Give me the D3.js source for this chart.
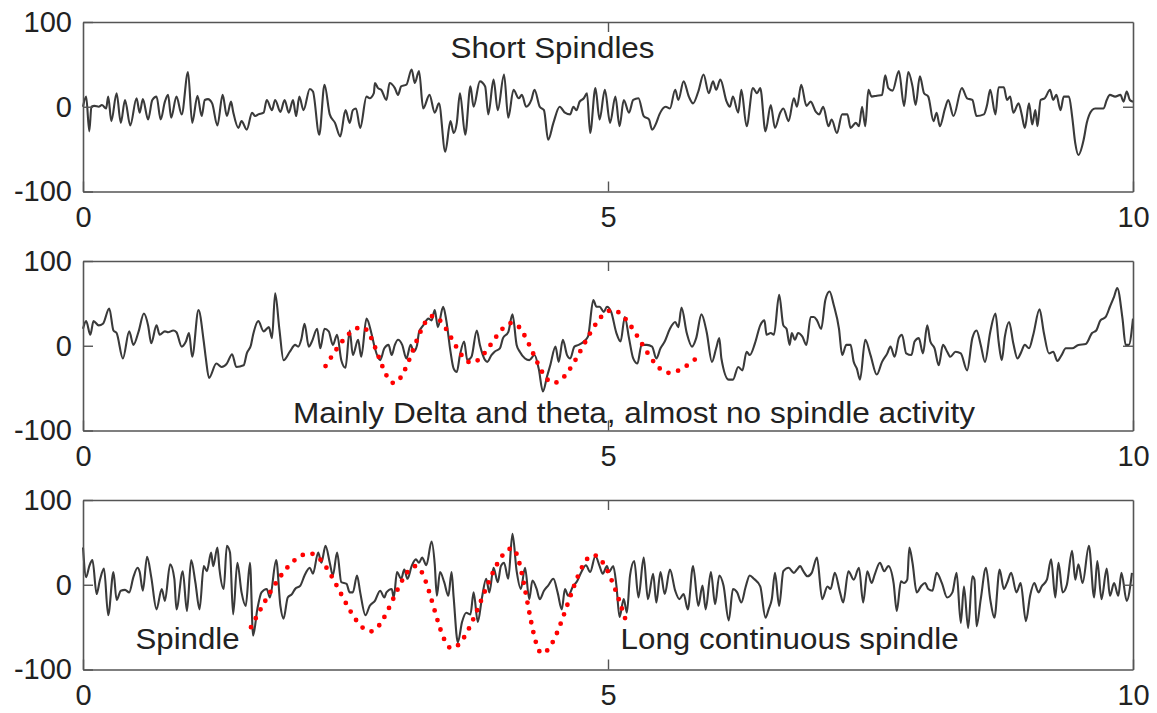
<!DOCTYPE html>
<html>
<head>
<meta charset="utf-8">
<script src="https://cdn.jsdelivr.net/npm/d3@7"></script>
<style>
  body { margin: 0; background: #fff; }
  svg { display: block; }
</style>
</head>
<body>
<div id="chart"></div>
<script>
// EEG traces, [time (s), amplitude (uV)]
const shortSpindles = [
  [0.00,0],[0.03,12],[0.06,-29],[0.08,0],[0.11,1],[0.15,0],[0.18,2],[0.22,-2],[0.24,12],[0.27,-17],[0.32,16],[0.36,-19],[0.40,8],[0.45,-22],[0.51,10],[0.54,-7],[0.57,9],[0.62,-15],[0.66,8],[0.70,12],[0.74,-15],[0.78,6],[0.81,14],[0.84,-13],[0.89,12],[0.94,-9],[1.00,41],[1.04,-19],[1.09,13],[1.13,-11],[1.16,8],[1.19,9],[1.23,4],[1.28,-22],[1.33,14],[1.37,-11],[1.41,6],[1.43,-6],[1.48,-25],[1.51,-17],[1.56,-27],[1.61,-7],[1.64,-11],[1.67,-9],[1.72,-7],[1.75,8],[1.80,-4],[1.83,8],[1.88,-6],[1.92,8],[1.96,-7],[2.00,8],[2.03,-11],[2.06,12],[2.10,-4],[2.16,21],[2.19,18],[2.25,-33],[2.30,26],[2.35,-9],[2.40,-19],[2.45,-35],[2.50,-4],[2.54,-19],[2.57,-4],[2.60,-2],[2.64,-25],[2.70,12],[2.73,10],[2.77,16],[2.78,28],[2.81,22],[2.84,20],[2.89,8],[2.92,28],[2.97,22],[3.00,14],
  [3.03,24],[3.08,26],[3.13,44],[3.16,28],[3.20,42],[3.24,-2],[3.30,14],[3.35,-7],[3.39,4],[3.45,-53],[3.50,-17],[3.53,-31],[3.56,-19],[3.59,16],[3.64,-33],[3.69,24],[3.72,0],[3.78,30],[3.83,24],[3.86,-9],[3.91,32],[3.95,-4],[4.01,38],[4.05,-13],[4.10,20],[4.15,10],[4.18,14],[4.22,0],[4.27,8],[4.30,20],[4.35,0],[4.39,-4],[4.43,-39],[4.48,-19],[4.54,0],[4.59,-7],[4.64,-9],[4.67,0],[4.70,-4],[4.73,6],[4.77,10],[4.80,16],[4.83,-31],[4.88,22],[4.92,-15],[4.97,20],[5.02,-19],[5.07,12],[5.11,-23],[5.15,8],[5.20,-7],[5.24,8],[5.29,10],[5.34,-11],[5.39,-15],[5.42,-27],[5.46,-19],[5.49,-9],[5.55,0],[5.59,-2],[5.64,20],[5.67,8],[5.72,30],[5.77,12],[5.81,4],[5.86,18],[5.91,38],[5.96,16],[6.00,30],[6.03,20],[6.07,32],[6.13,6],[6.16,0],[6.19,12],[6.24,-7],[6.27,20],[6.32,-23],[6.38,22],[6.42,16],
  [6.45,22],[6.50,-29],[6.55,2],[6.59,-25],[6.64,-7],[6.67,-2],[6.72,-17],[6.77,10],[6.80,0],[6.84,26],[6.89,1],[6.93,6],[6.98,-6],[7.01,-9],[7.05,0],[7.10,-23],[7.13,-15],[7.18,-31],[7.23,-9],[7.28,-9],[7.31,-25],[7.36,-19],[7.39,-23],[7.42,0],[7.45,-23],[7.48,20],[7.51,12],[7.56,13],[7.61,14],[7.64,37],[7.67,22],[7.71,19],[7.77,42],[7.82,1],[7.86,41],[7.90,24],[7.93,2],[7.97,36],[8.01,16],[8.05,12],[8.10,-17],[8.13,-7],[8.16,-23],[8.21,-2],[8.24,8],[8.29,-11],[8.37,22],[8.42,10],[8.47,8],[8.51,-11],[8.58,-9],[8.61,2],[8.64,20],[8.69,-9],[8.72,23],[8.77,23],[8.80,8],[8.83,12],[8.86,-7],[8.91,4],[8.94,-9],[8.97,-25],[9.01,4],[9.04,-21],[9.07,-4],[9.09,-23],[9.12,8],[9.16,10],[9.21,20],[9.24,8],[9.27,14],[9.31,-4],[9.34,12],[9.39,12],[9.42,-11],[9.45,-43],[9.48,-57],[9.53,-39],[9.56,-19],[9.61,-4],[9.64,-2],[9.72,-2],[9.75,8],[9.78,14],[9.83,12],[9.88,14],[9.91,6],[9.94,18],[9.97,8],[10.00,6]
]

const deltaTheta = [
  [0.00,20],[0.03,29],[0.07,13],[0.10,29],[0.15,24],[0.19,26],[0.25,44],[0.29,18],[0.32,15],[0.38,-15],[0.44,17],[0.48,1],[0.53,17],[0.58,38],[0.62,24],[0.65,3],[0.70,24],[0.73,13],[0.78,17],[0.81,16],[0.86,18],[0.89,16],[0.94,-1],[0.98,5],[1.01,15],[1.04,-13],[1.10,42],[1.15,5],[1.17,-15],[1.20,-38],[1.27,-21],[1.32,-25],[1.37,-21],[1.42,-10],[1.46,-25],[1.53,-23],[1.56,-9],[1.60,1],[1.62,13],[1.67,29],[1.72,17],[1.77,22],[1.80,9],[1.83,62],[1.87,20],[1.91,-17],[1.97,-7],[2.02,1],[2.05,-1],[2.08,8],[2.11,26],[2.15,-1],[2.18,5],[2.23,20],[2.26,-3],[2.30,20],[2.34,17],[2.38,1],[2.42,13],[2.46,-17],[2.50,-26],[2.54,18],[2.57,-11],[2.62,7],[2.65,-13],[2.70,32],[2.75,13],[2.78,-3],[2.83,-17],
  [2.87,-3],[2.91,1],[2.94,-11],[2.97,1],[3.00,7],[3.04,1],[3.08,-15],[3.12,1],[3.15,-7],[3.18,0],[3.20,16],[3.24,24],[3.29,32],[3.32,30],[3.35,42],[3.38,22],[3.43,46],[3.46,30],[3.50,-7],[3.53,-27],[3.56,-31],[3.59,-11],[3.63,5],[3.66,-17],[3.70,-13],[3.75,18],[3.78,1],[3.83,-17],[3.85,-19],[3.89,-11],[3.92,-7],[3.97,-3],[4.00,9],[4.05,16],[4.09,37],[4.13,1],[4.16,-7],[4.21,-15],[4.25,-17],[4.30,-11],[4.34,-27],[4.38,-54],[4.42,-36],[4.45,-23],[4.50,-1],[4.53,-19],[4.57,7],[4.61,-11],[4.64,-15],[4.68,-1],[4.72,1],[4.77,5],[4.81,11],[4.86,54],[4.89,46],[4.92,46],[4.96,40],[4.99,46],[5.03,40],[5.08,15],[5.12,5],[5.16,34],[5.20,9],[5.24,-15],[5.28,-21],[5.32,1],[5.37,1],[5.42,-1],[5.46,-15],[5.50,-3],[5.54,5],[5.59,20],[5.64,28],[5.67,22],[5.70,45],[5.75,15],[5.80,-1],[5.84,9],[5.89,37],[5.94,16],[5.99,-19],[6.03,-3],[6.06,9],[6.08,-15],[6.15,-40],[6.19,-40],[6.24,-25],[6.28,-29],[6.32,-7],[6.35,-11],[6.40,3],
  [6.45,24],[6.49,30],[6.51,13],[6.55,15],[6.58,13],[6.63,60],[6.67,24],[6.70,20],[6.73,1],[6.75,15],[6.78,7],[6.81,15],[6.85,11],[6.89,1],[6.93,34],[6.96,34],[6.99,30],[7.03,20],[7.07,54],[7.11,64],[7.15,48],[7.20,20],[7.23,-11],[7.27,1],[7.31,1],[7.34,-19],[7.37,-27],[7.40,-40],[7.45,7],[7.50,-11],[7.56,-34],[7.61,-19],[7.66,-9],[7.69,-1],[7.73,-13],[7.77,9],[7.80,13],[7.84,-9],[7.89,-11],[7.92,5],[7.96,9],[8.00,-9],[8.04,24],[8.07,5],[8.11,-3],[8.15,-23],[8.19,1],[8.23,-7],[8.26,-13],[8.31,-7],[8.36,-9],[8.42,-29],[8.47,9],[8.51,18],[8.55,1],[8.59,-19],[8.64,16],[8.69,38],[8.72,5],[8.75,-17],[8.78,11],[8.82,28],[8.86,3],[8.90,-15],[8.93,-9],[8.97,1],[9.01,-3],[9.05,13],[9.11,43],[9.15,16],[9.20,-9],[9.24,-7],[9.28,-18],[9.32,-11],[9.36,-3],[9.42,-3],[9.48,1],[9.55,2],[9.61,15],[9.65,18],[9.69,30],[9.74,34],[9.78,46],[9.82,58],[9.85,68],[9.90,32],[9.93,1],[9.96,1],[10.00,32]
]

const longSpindle = [
  [0.00,44],[0.03,9],[0.06,22],[0.09,29],[0.13,-11],[0.16,5],[0.20,19],[0.24,-36],[0.29,15],[0.32,-18],[0.36,-7],[0.40,-6],[0.44,-9],[0.48,9],[0.52,20],[0.54,15],[0.57,-7],[0.61,33],[0.65,9],[0.70,-29],[0.75,-5],[0.78,-19],[0.83,24],[0.87,7],[0.89,-29],[0.95,16],[0.99,-31],[1.03,29],[1.07,3],[1.11,-29],[1.15,22],[1.18,16],[1.22,38],[1.24,22],[1.28,44],[1.30,18],[1.34,-5],[1.37,46],[1.40,38],[1.43,-35],[1.47,26],[1.51,-9],[1.55,-25],[1.59,26],[1.62,-60],[1.66,-29],[1.70,-9],[1.75,-5],[1.78,-15],[1.84,29],[1.88,-25],[1.91,-40],[1.95,-15],[1.99,-11],[2.02,-5],[2.07,-1],[2.11,11],[2.16,20],[2.19,13],[2.24,38],[2.27,26],[2.31,46],[2.35,26],[2.38,11],[2.42,38],[2.46,3],[2.51,1],[2.54,-9],[2.57,-9],[2.61,11],[2.64,-9],[2.69,-36],[2.73,-25],[2.78,-19],[2.83,-7],
  [2.87,-15],[2.89,-9],[2.94,-5],[2.96,-15],[2.99,15],[3.03,7],[3.06,18],[3.09,7],[3.13,22],[3.17,30],[3.20,26],[3.23,32],[3.27,23],[3.32,51],[3.35,24],[3.37,-13],[3.40,15],[3.44,3],[3.48,-13],[3.51,15],[3.53,-15],[3.57,-68],[3.61,-44],[3.65,-33],[3.69,-35],[3.72,-9],[3.76,-44],[3.80,-15],[3.84,7],[3.87,-9],[3.91,20],[3.95,3],[3.98,22],[4.01,26],[4.05,7],[4.09,60],[4.13,16],[4.17,-5],[4.21,20],[4.25,-17],[4.28,5],[4.32,-5],[4.35,-17],[4.39,-7],[4.43,-1],[4.48,7],[4.52,-9],[4.56,-29],[4.59,-5],[4.62,-13],[4.67,-1],[4.70,3],[4.75,16],[4.79,23],[4.83,15],[4.88,34],[4.92,22],[4.95,13],[4.99,22],[5.01,15],[5.05,22],[5.08,-1],[5.11,-38],[5.15,-17],[5.18,-33],[5.21,11],[5.25,28],[5.29,-15],[5.34,32],[5.38,-17],[5.43,13],[5.46,-21],[5.50,15],[5.54,-11],[5.59,18],[5.64,-7],[5.68,-17],[5.72,-11],[5.76,-29],[5.81,22],[5.86,-25],[5.90,-1],[5.93,-29],[5.98,15],[6.02,-23],[6.06,11],[6.10,-1],[6.15,-42],[6.19,-5],[6.23,-9],[6.27,-21],[6.31,-3],[6.35,11],[6.39,7],
  [6.45,-2],[6.50,-39],[6.53,-29],[6.56,-17],[6.59,14],[6.63,-25],[6.67,16],[6.72,20],[6.77,14],[6.80,18],[6.83,22],[6.86,16],[6.90,10],[6.94,14],[6.99,32],[7.04,-17],[7.09,-2],[7.12,-5],[7.16,14],[7.21,-9],[7.24,-21],[7.29,16],[7.34,6],[7.39,20],[7.43,-21],[7.47,16],[7.51,2],[7.54,12],[7.59,26],[7.63,16],[7.67,22],[7.72,2],[7.75,-31],[7.79,4],[7.82,2],[7.85,6],[7.87,44],[7.90,26],[7.94,-9],[7.98,-2],[8.02,2],[8.05,-5],[8.09,-7],[8.13,14],[8.18,2],[8.23,-15],[8.28,-9],[8.32,14],[8.36,-45],[8.39,-2],[8.43,-51],[8.47,10],[8.49,6],[8.51,-49],[8.55,-17],[8.60,20],[8.64,-17],[8.68,-39],[8.73,18],[8.77,-5],[8.80,2],[8.84,14],[8.89,-9],[8.93,2],[8.98,-43],[9.02,-13],[9.06,2],[9.10,-9],[9.13,-2],[9.18,6],[9.22,30],[9.26,-15],[9.29,26],[9.33,-9],[9.37,0],[9.42,40],[9.45,6],[9.48,24],[9.52,2],[9.58,46],[9.63,-15],[9.66,28],[9.70,-17],[9.75,19],[9.78,-13],[9.82,2],[9.86,-13],[9.89,14],[9.94,-19],[9.99,14]
]

// red dotted envelopes (peaks and troughs)
const deltaWave = [[2.31,-24],[2.66,22],[2.96,-44],[3.33,35],[3.70,-20],[4.09,27],[4.48,-44],[5.04,42],[5.58,-32],[5.84,-15]]
const spindleWave = [[1.60,-50],[2.16,37],[2.74,-55],[3.17,22],[3.51,-75],[4.09,43],[4.37,-81],[4.86,35],[5.18,-46]]

const xTicks = [0, 5, 10]
const yTicks = [-100, 0, 100]

// annotation text with its anchor in data units
const notes = [
  [{ text: 'Short Spindles', t: 3.50, v: 58, len: 204 }],
  [{ text: 'Mainly Delta and theta, almost no spindle activity', t: 2.00, v: -91, len: 682 }],
  [{ text: 'Spindle', t: 0.50, v: -76, len: 104 },
   { text: 'Long continuous spindle', t: 5.12, v: -76, len: 338 }]
]

const width = 1157
const height = 713
const panelTops = [22, 261, 500]
const panelHeight = 169.5
const font = "'Liberation Sans', Arial, sans-serif"
const boxColor = '#555'

const svg = d3.select('#chart')
  .append('svg')
  .attr('width', width)
  .attr('height', height)

const x = d3.scaleLinear().domain([0, 10]).range([83, 1133])

const panels = [
  { trace: shortSpindles, wave: null, notes: notes[0] },
  { trace: deltaTheta, wave: deltaWave, notes: notes[1] },
  { trace: longSpindle, wave: spindleWave, notes: notes[2] }
]

function styleAxis (sel) {
  sel.select('.domain').attr('stroke', boxColor).attr('stroke-width', 1.6)
  sel.selectAll('.tick line').attr('stroke', boxColor).attr('stroke-width', 1.4)
  sel.selectAll('.tick text')
    .attr('fill', '#222')
    .attr('font-size', 29)
    .attr('font-family', font)
}

panels.forEach((p, i) => {
  const top = panelTops[i]
  const bottom = top + panelHeight
  const y = d3.scaleLinear().domain([-100, 100]).range([bottom, top])
  const g = svg.append('g')

  const line = d3.line()
    .x(d => x(d[0]))
    .y(d => y(d[1]))
    .curve(d3.curveMonotoneX)

  g.append('path')
    .datum(p.trace)
    .attr('d', line)
    .attr('fill', 'none')
    .attr('stroke', '#3a3a3a')
    .attr('stroke-width', 2.1)
    .attr('stroke-linejoin', 'round')

  if (p.wave) {
    g.append('path')
      .datum(p.wave)
      .attr('d', line)
      .attr('fill', 'none')
      .attr('stroke', '#ff0000')
      .attr('stroke-width', 4.8)
      .attr('stroke-linecap', 'round')
      .attr('stroke-dasharray', '0 10')
  }

  // axes: labels left and bottom, inward ticks all round
  g.append('g')
    .attr('transform', 'translate(0,' + bottom + ')')
    .call(d3.axisBottom(x).tickValues(xTicks).tickSizeInner(-10).tickSizeOuter(0).tickPadding(15).tickFormat(d => String(d)))
    .call(styleAxis)
  g.append('g')
    .attr('transform', 'translate(0,' + top + ')')
    .call(d3.axisTop(x).tickValues([5]).tickSizeInner(-10).tickSizeOuter(0).tickFormat(''))
    .call(styleAxis)
  g.append('g')
    .attr('transform', 'translate(' + x(0) + ',0)')
    .call(d3.axisLeft(y).tickValues(yTicks).tickSizeInner(-10).tickSizeOuter(0).tickPadding(11).tickFormat(d => String(d)))
    .call(styleAxis)
  g.append('g')
    .attr('transform', 'translate(' + x(10) + ',0)')
    .call(d3.axisRight(y).tickValues([0]).tickSizeInner(-10).tickSizeOuter(0).tickFormat(''))
    .call(styleAxis)

  g.selectAll('.note')
    .data(p.notes).join('text')
    .attr('class', 'note')
    .attr('x', d => x(d.t))
    .attr('y', d => y(d.v))
    .attr('textLength', d => d.len)
    .attr('lengthAdjust', 'spacingAndGlyphs')
    .attr('font-size', 29)
    .attr('font-family', font)
    .attr('fill', '#222')
    .text(d => d.text)
})
</script>
</body>
</html>
